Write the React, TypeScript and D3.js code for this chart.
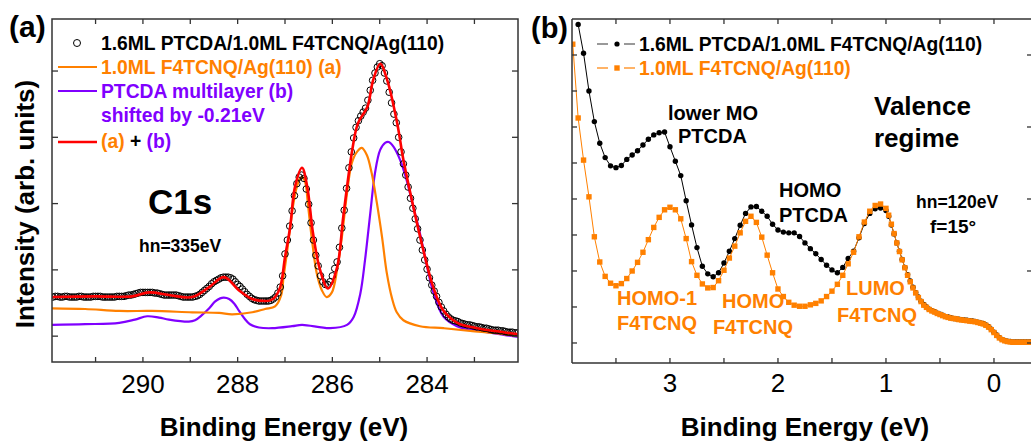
import React from 'react';
import * as d3 from 'd3';

type P = [number, number];

// ---------- Panel (a): C1s core level ----------
const c1sMeasured: P[] = [
  [291.90,0.59],[291.85,0.60],[291.80,0.60],[291.75,0.59],[291.70,0.59],[291.65,0.60],[291.60,0.60],[291.55,0.59],[291.50,0.59],[291.45,0.59],
  [291.40,0.59],[291.35,0.60],[291.30,0.60],[291.25,0.59],[291.20,0.59],[291.15,0.59],[291.10,0.59],[291.05,0.60],[291.00,0.60],[290.95,0.60],
  [290.90,0.60],[290.85,0.59],[290.80,0.59],[290.75,0.59],[290.70,0.59],[290.65,0.59],[290.60,0.59],[290.55,0.60],[290.50,0.60],[290.45,0.60],
  [290.40,0.60],[290.35,0.61],[290.30,0.62],[290.25,0.62],[290.20,0.63],[290.15,0.64],[290.10,0.65],[290.05,0.66],[290.00,0.66],[289.95,0.66],
  [289.90,0.66],[289.85,0.66],[289.80,0.66],[289.75,0.65],[289.70,0.65],[289.65,0.64],[289.60,0.63],[289.55,0.62],[289.50,0.62],[289.45,0.62],
  [289.40,0.62],[289.35,0.62],[289.30,0.62],[289.25,0.61],[289.20,0.60],[289.15,0.59],[289.10,0.59],[289.05,0.59],[289.00,0.59],[288.95,0.59],
  [288.90,0.60],[288.85,0.61],[288.80,0.63],[288.75,0.66],[288.70,0.69],[288.65,0.72],[288.60,0.75],[288.55,0.79],[288.50,0.82],[288.45,0.84],
  [288.40,0.86],[288.35,0.88],[288.30,0.89],[288.25,0.89],[288.20,0.89],[288.15,0.88],[288.10,0.86],[288.05,0.82],[288.00,0.78],[287.95,0.75],
  [287.90,0.71],[287.85,0.67],[287.80,0.63],[287.75,0.60],[287.70,0.57],[287.65,0.55],[287.60,0.54],[287.55,0.53],[287.50,0.53],[287.45,0.53],
  [287.40,0.53],[287.35,0.53],[287.30,0.54],[287.25,0.56],[287.20,0.59],[287.15,0.65],[287.10,0.74],
  [287.05,0.91],[287.0,1.24],[286.95,1.45],[286.9,1.66],[286.85,1.89],[286.8,2.12],[286.75,2.30],[286.7,2.40],[286.65,2.43],[286.6,2.38],
  [286.55,2.22],[286.5,1.99],[286.45,1.71],[286.4,1.45],[286.35,1.22],[286.3,1.06],[286.25,0.91],[286.2,0.82],[286.15,0.78],[286.1,0.78],
  [286.05,0.82],[286.0,0.91],[285.95,1.02],[285.9,1.12],[285.85,1.34],[285.8,1.63],[285.75,1.90],[285.7,2.23],[285.65,2.54],[285.6,2.78],
  [285.55,2.99],[285.5,3.15],[285.45,3.25],[285.4,3.32],[285.35,3.38],[285.3,3.44],[285.25,3.56],[285.2,3.71],[285.15,3.86],[285.1,3.97],
  [285.05,4.06],[285.0,4.11],[284.95,4.08],[284.9,3.97],[284.85,3.85],[284.8,3.68],[284.75,3.52],[284.7,3.35],[284.65,3.22],[284.6,3.00],
  [284.55,2.78],[284.5,2.60],[284.45,2.43],[284.4,2.25],[284.35,2.08],[284.3,1.93],[284.25,1.77],[284.2,1.62],[284.15,1.45],[284.1,1.30],
  [284.05,1.15],[284.0,1.01],[283.95,0.88],[283.9,0.77],[283.85,0.68],[283.8,0.60],[283.75,0.51],[283.7,0.44],[283.65,0.38],[283.6,0.33],
  [283.55,0.29],[283.5,0.26],[283.45,0.24],[283.4,0.23],[283.35,0.22],[283.30,0.20],[283.25,0.19],[283.20,0.18],[283.15,0.17],[283.10,0.17],
  [283.05,0.16],[283.00,0.15],[282.95,0.14],[282.90,0.14],[282.85,0.13],[282.80,0.12],[282.75,0.12],[282.70,0.11],[282.65,0.10],[282.60,0.09],
  [282.55,0.09],[282.50,0.09],[282.45,0.08],[282.40,0.08],[282.35,0.07],[282.30,0.06],[282.25,0.06],[282.20,0.06],[282.15,0.05],[282.10,0.05],
];

const c1sSum: P[] = [
  [291.92,0.59],[291.0,0.60],[290.23,0.60],[289.87,0.66],[289.45,0.62],[288.96,0.59],[288.60,0.74],[288.29,0.89],[287.97,0.69],
  [287.69,0.56],[287.42,0.53],[287.31,0.54],[287.21,0.59],[287.10,0.74],[287.00,1.19],[286.89,1.65],[286.79,2.25],[286.64,2.54],
  [286.53,2.25],[286.41,1.56],[286.26,1.00],[286.09,0.72],[285.90,1.04],[285.77,1.80],[285.58,2.81],[285.46,3.21],[285.26,3.46],
  [285.14,3.86],[284.99,4.11],[284.84,3.86],[284.63,3.21],[284.50,2.66],[284.29,1.95],[284.08,1.30],[283.87,0.74],[283.66,0.39],
  [283.36,0.20],[282.94,0.12],[282.39,0.06],[282.08,0.03],
];

const c1sF4TCNQ: P[] = [
  [291.92,0.42],[291.22,0.41],[290.50,0.38],[289.81,0.38],[288.96,0.36],[288.39,0.35],[288.12,0.33],[287.69,0.36],[287.42,0.41],
  [287.21,0.45],[287.08,0.62],[287.03,0.90],[286.96,1.25],[286.89,1.65],[286.82,2.01],[286.75,2.25],[286.68,2.38],[286.63,2.40],
  [286.57,2.31],[286.51,1.95],[286.43,1.45],[286.33,0.95],[286.22,0.69],[286.12,0.59],[286.01,0.66],[285.90,1.00],[285.80,1.49],
  [285.69,2.16],[285.59,2.61],[285.48,2.78],[285.38,2.84],[285.27,2.73],[285.17,2.46],[285.06,2.01],[284.95,1.49],[284.85,0.95],
  [284.74,0.57],[284.64,0.36],[284.50,0.24],[284.15,0.15],[283.65,0.12],[283.09,0.08],[282.38,0.03],[282.08,0.00],
];

const c1sPTCDA: P[] = [
  [291.92,0.17],[291.22,0.18],[290.50,0.20],[290.17,0.25],[289.91,0.30],[289.66,0.28],[289.45,0.25],[289.03,0.22],[288.90,0.24],
  [288.75,0.32],[288.60,0.42],[288.48,0.52],[288.37,0.57],[288.29,0.58],[288.18,0.56],[288.07,0.49],[287.97,0.38],[287.86,0.27],
  [287.74,0.18],[287.55,0.13],[287.27,0.12],[286.85,0.15],[286.64,0.17],[286.05,0.12],[285.69,0.17],[285.55,0.29],[285.41,0.64],
  [285.31,1.15],[285.20,1.85],[285.10,2.46],[284.99,2.81],[284.88,2.92],[284.81,2.93],[284.71,2.86],[284.57,2.66],[284.43,2.35],
  [284.29,1.95],[284.15,1.55],[284.00,1.05],[283.86,0.64],[283.65,0.29],[283.37,0.15],[283.09,0.10],[282.38,0.02],[282.08,-0.01],
];

const c1sMajorTicks = [290, 288, 286, 284];
const c1sAllTicks = [291, 290, 289, 288, 287, 286, 285, 284, 283];
const c1sYTicks = [0, 1, 2, 3, 4];

// ---------- Panel (b): valence regime ----------
const vbPTCDA: P[] = [
  [3.85,8.85],[3.80,8.05],[3.75,7.00],[3.70,6.15],[3.65,5.55],[3.60,5.15],[3.55,4.92],[3.50,4.87],[3.45,4.93],[3.40,5.10],
  [3.35,5.22],[3.30,5.34],[3.25,5.50],[3.20,5.66],[3.15,5.78],[3.10,5.84],[3.05,5.86],[3.00,5.45],[2.95,5.05],[2.90,4.65],
  [2.85,3.95],[2.80,3.28],[2.75,2.65],[2.70,2.13],[2.65,1.92],[2.60,1.84],[2.55,1.95],[2.50,2.22],[2.45,2.55],[2.40,2.90],
  [2.35,3.27],[2.30,3.60],[2.25,3.78],[2.20,3.79],[2.15,3.66],[2.10,3.52],[2.05,3.30],[2.00,3.14],[1.95,3.08],[1.90,3.06],
  [1.85,3.06],[1.80,2.96],[1.75,2.78],[1.70,2.62],[1.65,2.48],[1.60,2.32],[1.55,2.16],[1.50,2.03],[1.45,1.95],[1.40,2.10],
  [1.35,2.35],[1.30,2.55],[1.25,2.92],[1.20,3.32],[1.15,3.60],[1.10,3.73],[1.05,3.75],[1.00,3.68],[0.975,3.52],[0.95,3.28],
  [0.925,3.03],[0.90,2.78],[0.875,2.55],[0.85,2.32],[0.825,2.10],[0.80,1.90],[0.775,1.72],[0.75,1.55],[0.725,1.40],[0.70,1.28],
  [0.675,1.16],[0.65,1.07],[0.625,1.00],[0.60,0.94],[0.575,0.90],[0.55,0.87],[0.525,0.83],[0.50,0.80],[0.475,0.77],[0.45,0.74],
  [0.425,0.72],[0.40,0.70],[0.375,0.68],[0.35,0.67],[0.325,0.66],[0.30,0.65],[0.275,0.64],[0.25,0.63],[0.225,0.62],[0.20,0.61],
  [0.175,0.60],[0.15,0.58],[0.125,0.56],[0.10,0.54],[0.075,0.50],[0.05,0.45],[0.025,0.38],[0.00,0.30],[-0.025,0.22],[-0.05,0.15],
  [-0.075,0.10],[-0.10,0.07],[-0.125,0.05],[-0.15,0.04],[-0.175,0.03],[-0.20,0.03],[-0.225,0.03],[-0.25,0.03],[-0.275,0.03],[-0.30,0.03],
  [-0.325,0.03],[-0.35,0.03],
];

const vbF4TCNQ: P[] = [
  [3.90,8.30],[3.85,6.25],[3.80,5.08],[3.75,4.06],[3.70,2.95],[3.65,2.25],[3.60,1.85],[3.55,1.66],[3.50,1.59],[3.45,1.65],
  [3.40,1.79],[3.35,2.00],[3.30,2.24],[3.25,2.52],[3.20,2.87],[3.15,3.21],[3.10,3.49],[3.05,3.70],[3.00,3.77],[2.95,3.70],
  [2.90,3.45],[2.85,2.90],[2.80,2.26],[2.75,1.88],[2.70,1.64],[2.65,1.53],[2.60,1.54],[2.55,1.73],[2.50,2.02],[2.45,2.36],
  [2.40,2.69],[2.35,3.06],[2.30,3.38],[2.25,3.52],[2.20,3.35],[2.15,2.94],[2.10,2.44],[2.05,1.95],[2.00,1.50],[1.95,1.29],
  [1.90,1.13],[1.85,1.05],[1.80,1.02],[1.75,1.02],[1.70,1.06],[1.65,1.10],[1.60,1.17],[1.55,1.29],[1.50,1.44],[1.45,1.63],
  [1.40,1.88],[1.35,2.20],[1.30,2.52],[1.25,2.95],[1.20,3.36],[1.15,3.66],[1.10,3.82],[1.05,3.86],[1.00,3.74],[0.975,3.55],
  [0.95,3.30],[0.925,3.04],[0.90,2.78],[0.875,2.54],[0.85,2.31],[0.825,2.09],[0.80,1.88],[0.775,1.70],[0.75,1.53],[0.725,1.39],
  [0.70,1.26],[0.675,1.15],[0.65,1.05],[0.625,0.99],[0.60,0.93],[0.575,0.89],[0.55,0.86],[0.525,0.82],[0.50,0.79],[0.475,0.76],
  [0.45,0.73],[0.425,0.71],[0.40,0.69],[0.375,0.68],[0.35,0.67],[0.325,0.65],[0.30,0.64],[0.275,0.63],[0.25,0.62],[0.225,0.61],
  [0.20,0.60],[0.175,0.59],[0.15,0.57],[0.125,0.55],[0.10,0.53],[0.075,0.49],[0.05,0.44],[0.025,0.37],[0.00,0.29],[-0.025,0.21],
  [-0.05,0.14],[-0.075,0.09],[-0.10,0.06],[-0.125,0.04],[-0.15,0.03],[-0.175,0.02],[-0.20,0.02],[-0.225,0.02],[-0.25,0.02],[-0.275,0.02],
  [-0.30,0.02],[-0.325,0.02],[-0.35,0.02],
];

const vbMajorTicks = [3, 2, 1, 0];
const vbAllTicks = [3.5, 3, 2.5, 2, 1.5, 1, 0.5, 0];
const vbYTicksLeft = [0, 1, 2, 3, 4, 5, 6, 7, 8];
const vbYTicksRight = [0, 2, 4, 6, 8];

const legendA = [
  '1.6ML PTCDA/1.0ML F4TCNQ/Ag(110)',
  '1.0ML F4TCNQ/Ag(110) (a)',
  'PTCDA multilayer (b)',
  'shifted by -0.21eV',
];
const legendB = ['1.6ML PTCDA/1.0ML F4TCNQ/Ag(110)', '1.0ML F4TCNQ/Ag(110)'];

const ORANGE = '#ff8000';
const PURPLE = '#8000ff';
const RED = '#ff0000';
const AXIS = '#333';
const FONT = '"Liberation Sans", Arial, sans-serif';

export default function App() {
  const xA = d3.scaleLinear().domain([291.92, 282.08]).range([52, 518]);
  const yA = d3.scaleLinear().domain([-0.39, 4.785]).range([362, 19]);
  const xB = d3.scaleLinear().domain([3.907, -0.352]).range([572, 1032]);
  const yB = d3.scaleLinear().domain([-0.556, 9]).range([363, 19]);

  const lineA = d3.line<P>().x(d => xA(d[0])).y(d => yA(d[1])).curve(d3.curveCatmullRom.alpha(0.5));
  const lineB = d3.line<P>().x(d => xB(d[0])).y(d => yB(d[1]));

  const [ax0, ax1] = xA.range();
  const [ay0, ay1] = yA.range();
  const [bx0, bx1] = xB.range();
  const [by0, by1] = yB.range();

  return (
    <div style={{ position: 'absolute', left: 0, top: 0 }}>
      <svg width={1031} height={443} style={{ display: 'block', background: '#fff' }} fontFamily={FONT}>
        <defs>
          <clipPath id="clipA"><rect x={ax0} y={ay1} width={ax1 - ax0} height={ay0 - ay1} /></clipPath>
          <clipPath id="clipB"><rect x={bx0} y={by1} width={bx1 - bx0} height={by0 - by1} /></clipPath>
        </defs>

        {/* ================= Panel (a) ================= */}
        <g clipPath="url(#clipA)">
          <path d={lineA(c1sPTCDA) || ''} fill="none" stroke={PURPLE} strokeWidth={2.2} />
          <path d={lineA(c1sF4TCNQ) || ''} fill="none" stroke={ORANGE} strokeWidth={2.2} />
          {c1sMeasured.map((d, i) => (
            <circle key={i} cx={xA(d[0])} cy={yA(d[1])} r={3.3} fill="none" stroke="#000" strokeWidth={1} />
          ))}
          <path d={lineA(c1sSum) || ''} fill="none" stroke={RED} strokeWidth={2.6} />
        </g>
        <rect x={ax0} y={ay1} width={ax1 - ax0} height={ay0 - ay1} fill="none" stroke={AXIS} strokeWidth={1.5} />
        {c1sAllTicks.map(t => (
          <g key={'ta' + t}>
            <line x1={xA(t)} x2={xA(t)} y1={ay0} y2={ay0 - 5} stroke={AXIS} strokeWidth={1.3} />
            <line x1={xA(t)} x2={xA(t)} y1={ay1} y2={ay1 + 5} stroke={AXIS} strokeWidth={1.3} />
          </g>
        ))}
        {c1sYTicks.map(t => (
          <g key={'ya' + t}>
            <line x1={ax0} x2={ax0 + 6} y1={yA(t)} y2={yA(t)} stroke={AXIS} strokeWidth={1.3} />
            <line x1={ax1} x2={ax1 - 6} y1={yA(t)} y2={yA(t)} stroke={AXIS} strokeWidth={1.3} />
          </g>
        ))}
        {c1sMajorTicks.map(t => (
          <text key={'la' + t} x={xA(t)} y={393} fontSize={26} textAnchor="middle" fill="#000">{t}</text>
        ))}
        <text x={284} y={436} fontSize={26} fontWeight="bold" textAnchor="middle">Binding Energy (eV)</text>
        <text transform="translate(34,204) rotate(-90)" fontSize={26} fontWeight="bold" textAnchor="middle">Intensity (arb. units)</text>
        <text x={9} y={37} fontSize={30} fontWeight="bold">(a)</text>

        {/* legend (a) */}
        <circle cx={77} cy={43} r={3.5} fill="none" stroke="#000" strokeWidth={1} />
        <text x={101} y={50} fontSize={19.3} fontWeight="bold" fill="#000">{legendA[0]}</text>
        <line x1={58} x2={97} y1={67} y2={67} stroke={ORANGE} strokeWidth={2.2} />
        <text x={101} y={74} fontSize={19.3} fontWeight="bold" fill={ORANGE}>{legendA[1]}</text>
        <line x1={58} x2={97} y1={91} y2={91} stroke={PURPLE} strokeWidth={2.2} />
        <text x={101} y={98} fontSize={19.3} fontWeight="bold" fill={PURPLE}>{legendA[2]}</text>
        <text x={101} y={122} fontSize={19.3} fontWeight="bold" fill={PURPLE}>{legendA[3]}</text>
        <line x1={58} x2={97} y1={142} y2={142} stroke={RED} strokeWidth={2.6} />
        <text x={101} y={148} fontSize={19.3} fontWeight="bold">
          <tspan fill={ORANGE}>(a)</tspan><tspan fill="#000"> + </tspan><tspan fill={PURPLE}>(b)</tspan>
        </text>

        <text x={148} y={214} fontSize={35} fontWeight="bold">C1s</text>
        <text x={139} y={252} fontSize={17.5} fontWeight="bold">hn=335eV</text>

        {/* ================= Panel (b) ================= */}
        <g clipPath="url(#clipB)">
          <path d={lineB(vbPTCDA) || ''} fill="none" stroke="#000" strokeWidth={1} />
          {vbPTCDA.map((d, i) => (
            <circle key={i} cx={xB(d[0])} cy={yB(d[1])} r={2.7} fill="#000" />
          ))}
          <path d={lineB(vbF4TCNQ) || ''} fill="none" stroke={ORANGE} strokeWidth={1} />
          {vbF4TCNQ.map((d, i) => (
            <rect key={i} x={xB(d[0]) - 2.7} y={yB(d[1]) - 2.7} width={5.4} height={5.4} fill={ORANGE} />
          ))}
        </g>
        <line x1={bx0} x2={bx1} y1={by0} y2={by0} stroke={AXIS} strokeWidth={1.5} />
        <line x1={bx0} x2={bx1} y1={by1} y2={by1} stroke={AXIS} strokeWidth={1.5} />
        <line x1={bx0} x2={bx0} y1={by1} y2={by0} stroke={AXIS} strokeWidth={1.5} />
        {vbAllTicks.map(t => (
          <g key={'tb' + t}>
            <line x1={xB(t)} x2={xB(t)} y1={by0} y2={by0 - 5} stroke={AXIS} strokeWidth={1.3} />
            <line x1={xB(t)} x2={xB(t)} y1={by1} y2={by1 + 5} stroke={AXIS} strokeWidth={1.3} />
          </g>
        ))}
        {vbYTicksLeft.map(t => (
          <line key={'ybl' + t} x1={bx0} x2={bx0 + 5} y1={yB(t)} y2={yB(t)} stroke={AXIS} strokeWidth={1.3} />
        ))}
        {vbYTicksRight.map(t => (
          <line key={'ybr' + t} x1={1031} x2={1027} y1={yB(t)} y2={yB(t)} stroke={AXIS} strokeWidth={1.3} />
        ))}
        {vbMajorTicks.map(t => (
          <text key={'lb' + t} x={xB(t)} y={392} fontSize={26} textAnchor="middle" fill="#000">{t}</text>
        ))}
        <text x={805} y={436} fontSize={26} fontWeight="bold" textAnchor="middle">Binding Energy (eV)</text>
        <text x={531} y={38} fontSize={29} fontWeight="bold">(b)</text>

        {/* legend (b) */}
        <line x1={597} x2={608} y1={44} y2={44} stroke="#555" strokeWidth={1.2} />
        <circle cx={617} cy={44} r={2.6} fill="#000" />
        <line x1={624} x2={635} y1={44} y2={44} stroke="#555" strokeWidth={1.2} />
        <text x={639} y={51} fontSize={19.3} fontWeight="bold" fill="#000">{legendB[0]}</text>
        <line x1={597} x2={608} y1={68} y2={68} stroke={ORANGE} strokeWidth={1.2} />
        <rect x={614.3} y={65.3} width={5.4} height={5.4} fill={ORANGE} />
        <line x1={624} x2={635} y1={68} y2={68} stroke={ORANGE} strokeWidth={1.2} />
        <text x={639} y={75} fontSize={19.3} fontWeight="bold" fill={ORANGE}>{legendB[1]}</text>

        {/* annotations (b) */}
        <text x={668} y={120} fontSize={20} fontWeight="bold">lower MO</text>
        <text x={678} y={143} fontSize={20} fontWeight="bold">PTCDA</text>
        <text x={874} y={115} fontSize={26} fontWeight="bold">Valence</text>
        <text x={874} y={147} fontSize={26} fontWeight="bold">regime</text>
        <text x={779} y={197} fontSize={20} fontWeight="bold">HOMO</text>
        <text x={779} y={222} fontSize={20} fontWeight="bold">PTCDA</text>
        <text x={916} y={208} fontSize={17.5} fontWeight="bold">hn=120eV</text>
        <text x={930} y={233} fontSize={19} fontWeight="bold">f=15°</text>
        <text x={617} y={305} fontSize={20} fontWeight="bold" fill={ORANGE}>HOMO-1</text>
        <text x={617} y={330} fontSize={20} fontWeight="bold" fill={ORANGE}>F4TCNQ</text>
        <text x={722} y={308} fontSize={20} fontWeight="bold" fill={ORANGE}>HOMO</text>
        <text x={713} y={334} fontSize={20} fontWeight="bold" fill={ORANGE}>F4TCNQ</text>
        <text x={846} y={295} fontSize={20} fontWeight="bold" fill={ORANGE}>LUMO</text>
        <text x={837} y={322} fontSize={20} fontWeight="bold" fill={ORANGE}>F4TCNQ</text>
      </svg>
    </div>
  );
}
